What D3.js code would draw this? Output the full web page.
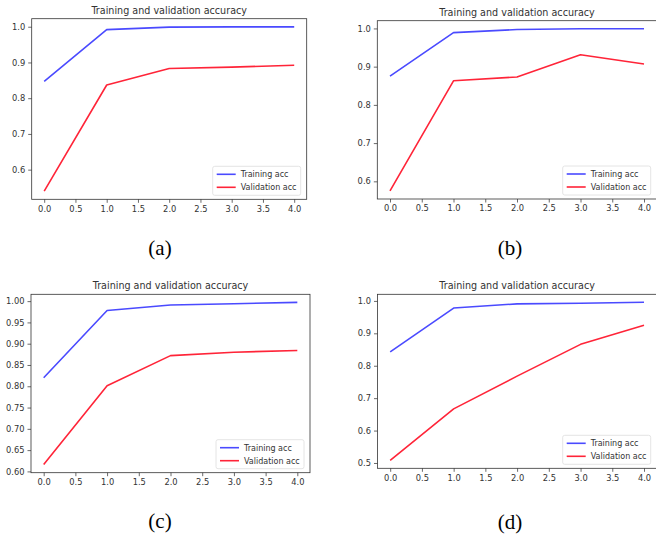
<!DOCTYPE html>
<html><head><meta charset="utf-8">
<script src="https://cdn.jsdelivr.net/npm/d3@7"></script>
<style>
html,body{margin:0;padding:0;background:#fff;}
svg{display:block;}
</style></head>
<body>
<svg id="chart" width="656" height="542"></svg>
<script>
// ---- data ----
const epochs = [0, 1, 2, 3, 4];
const xTicks = [0, 0.5, 1, 1.5, 2, 2.5, 3, 3.5, 4];
const panelLabels = ["(a)", "(b)", "(c)", "(d)"];
const chartTitle = "Training and validation accuracy";
const seriesNames = ["Training acc", "Validation acc"];
const trainA = [0.847, 0.992, 0.999, 0.9995, 0.9995];
const valA   = [0.540, 0.837, 0.883, 0.887, 0.892];
const trainB = [0.875, 0.989, 0.997, 0.999, 0.999];
const valB   = [0.575, 0.863, 0.873, 0.931, 0.907];
const trainC = [0.820, 0.978, 0.991, 0.994, 0.997];
const valC   = [0.616, 0.801, 0.872, 0.880, 0.884];
const trainD = [0.843, 0.978, 0.991, 0.993, 0.996];
const valD   = [0.508, 0.667, 0.768, 0.866, 0.925];
const yTicksA = [0.6, 0.7, 0.8, 0.9, 1.0];
const yTicksB = [0.6, 0.7, 0.8, 0.9, 1.0];
const yTicksC = [0.60, 0.65, 0.70, 0.75, 0.80, 0.85, 0.90, 0.95, 1.00];
const yTicksD = [0.5, 0.6, 0.7, 0.8, 0.9, 1.0];

// ---- layout ----
const panels = [
  {train: trainA, val: valA, yt: yTicksA, fmt: ".1f", box: [31.7, 306.7, 18.7, 199.3], label: [160, 255]},
  {train: trainB, val: valB, yt: yTicksB, fmt: ".1f", box: [377.3, 656.7, 20.7, 199], label: [510, 255]},
  {train: trainC, val: valC, yt: yTicksC, fmt: ".2f", box: [31, 310, 294.3, 472.7], label: [160, 528]},
  {train: trainD, val: valD, yt: yTicksD, fmt: ".1f", box: [377.5, 656.7, 294.3, 468.3], label: [510, 529]}
];
const colTrain = "#4a4aff", colVal = "#ff2438";
const svg = d3.select("#chart");

panels.forEach((p, i) => {
  const [l, r, t, b] = p.box;
  const all = p.train.concat(p.val);
  const lo = d3.min(all), hi = d3.max(all), m = (hi - lo) * 0.05;
  const x = d3.scaleLinear().domain([-0.2, 4.2]).range([l, r]);
  const y = d3.scaleLinear().domain([lo - m, hi + m]).range([b, t]);
  const g = svg.append("g");

  // lines
  const line = d3.line().x((d, j) => x(epochs[j])).y(d => y(d));
  g.append("path").datum(p.train).attr("d", line).attr("fill", "none")
    .attr("stroke", colTrain).attr("stroke-width", 1.6).attr("stroke-linejoin", "round");
  g.append("path").datum(p.val).attr("d", line).attr("fill", "none")
    .attr("stroke", colVal).attr("stroke-width", 1.6).attr("stroke-linejoin", "round");

  // axes
  const ax = g.append("g").attr("transform", `translate(0,${b})`)
    .call(d3.axisBottom(x).tickValues(xTicks).tickFormat(d3.format(".1f")).tickSizeOuter(0).tickSize(3.5).tickPadding(3));
  const ay = g.append("g").attr("transform", `translate(${l},0)`)
    .call(d3.axisLeft(y).tickValues(p.yt).tickFormat(d3.format(p.fmt)).tickSizeOuter(0).tickSize(3.5).tickPadding(3));
  [ax, ay].forEach(a => {
    a.select(".domain").remove();
    a.selectAll("line").attr("stroke", "#444").attr("stroke-width", 0.8);
    a.selectAll("text").attr("fill", "#333").style("font-family", "DejaVu Sans").style("font-size", "8.3px");
  });

  // frame
  g.append("rect").attr("x", l).attr("y", t).attr("width", r - l).attr("height", b - t)
    .attr("fill", "none").attr("stroke", "#333").attr("stroke-width", 0.8);

  // title
  g.append("text").attr("x", (l + r) / 2).attr("y", t - 5).attr("text-anchor", "middle")
    .attr("fill", "#333").style("font-family", "DejaVu Sans").style("font-size", "9.6px").text(chartTitle);

  // legend
  const lw = 88, lh = 29;
  const lx = r - 6 - lw, ly = b - 4 - lh;
  const lg = g.append("g").attr("transform", `translate(${lx},${ly})`);
  lg.append("rect").attr("width", lw).attr("height", lh).attr("rx", 2)
    .attr("fill", "#fff").attr("fill-opacity", 0.8).attr("stroke", "#ddd").attr("stroke-width", 0.8);
  [colTrain, colVal].forEach((c, k) => {
    const yy = 8 + k * 13;
    lg.append("line").attr("x1", 4).attr("x2", 23).attr("y1", yy).attr("y2", yy)
      .attr("stroke", c).attr("stroke-width", 1.6);
    lg.append("text").attr("x", 28).attr("y", yy + 3).attr("fill", "#333")
      .style("font-family", "DejaVu Sans").style("font-size", "8px").text(seriesNames[k]);
  });

  // panel label
  svg.append("text").attr("x", p.label[0]).attr("y", p.label[1]).attr("text-anchor", "middle")
    .attr("fill", "#000").style("font-family", "Liberation Serif").style("font-size", "21px").text(panelLabels[i]);
});
</script>
</body></html>
